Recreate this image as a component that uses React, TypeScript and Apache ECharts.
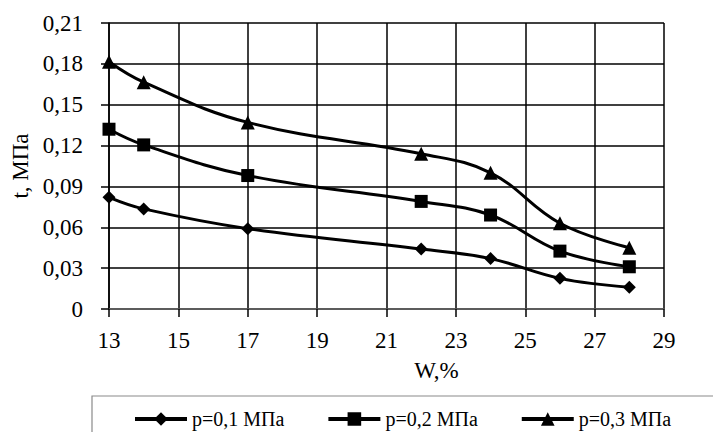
import React, { useEffect, useRef } from "react";
import * as echarts from "echarts";

const wValues = [13, 14, 17, 22, 24, 26, 28];
const xTickLabels = ["13", "15", "17", "19", "21", "23", "25", "27", "29"];
const p01 = [0.082, 0.0735, 0.059, 0.044, 0.037, 0.0225, 0.016];
const p02 = [0.132, 0.1205, 0.098, 0.079, 0.069, 0.0425, 0.031];
const p03 = [0.1815, 0.1665, 0.137, 0.114, 0.1, 0.063, 0.045];
const seriesNames = ["p=0,1 МПа", "p=0,2 МПа", "p=0,3 МПа"];
const seriesSymbols = ["diamond", "rect", "triangle"];
const seriesSizes = [13, 13, 14];

const FONT = "Liberation Serif";

export default function App() {
  const ref = useRef<HTMLDivElement>(null);
  useEffect(() => {
    if (!ref.current) return;
    const chart = echarts.init(ref.current, undefined, { renderer: "svg" });
    const allData = [p01, p02, p03];
    chart.setOption({
      animation: false,
      backgroundColor: "#ffffff",
      grid: { left: 109, right: 49, top: 23, bottom: 123 },
      xAxis: [
        {
          type: "category",
          data: xTickLabels,
          boundaryGap: false,
          name: "W,%",
          nameLocation: "middle",
          nameGap: 50,
          nameTextStyle: { fontFamily: FONT, fontSize: 23, color: "#000", padding: [0, 0, 0, 100] },
          axisLine: { show: true, lineStyle: { color: "#666", width: 1.5 } },
          axisTick: { show: true, alignWithLabel: true, length: 8, lineStyle: { color: "#000", width: 1.5 } },
          axisLabel: { fontFamily: FONT, fontSize: 23, color: "#000", margin: 20 },
          splitLine: { show: true, lineStyle: { color: "#000", width: 1.5 } },
        },
        {
          type: "value",
          min: 13,
          max: 29,
          show: false,
          splitLine: { show: false },
        },
      ],
      yAxis: {
        type: "value",
        min: 0,
        max: 0.21,
        interval: 0.03,
        name: "t, МПа",
        nameLocation: "middle",
        nameGap: 77,
        nameTextStyle: { fontFamily: FONT, fontSize: 23, color: "#000" },
        axisLine: { show: true, lineStyle: { color: "#000", width: 1.5 } },
        axisTick: { show: true, length: 8, lineStyle: { color: "#000", width: 1.5 } },
        axisLabel: {
          fontFamily: FONT,
          fontSize: 23,
          color: "#000",
          margin: 26,
          formatter: (v: number) => (v === 0 ? "0" : v.toFixed(2).replace(".", ",")),
        },
        splitLine: { show: true, lineStyle: { color: "#000", width: 1.5 } },
      },
      legend: {
        left: 128,
        top: 404,
        itemWidth: 52,
        itemHeight: 17,
        itemGap: 42,
        lineStyle: { width: 4 },
        textStyle: { fontFamily: FONT, fontSize: 20, color: "#000" },
        data: seriesNames,
      },
      graphic: [
        {
          type: "rect",
          shape: { x: 92, y: 396, width: 700, height: 80 },
          style: { fill: "none", stroke: "#8a8a8a", lineWidth: 1.2 },
          silent: true,
        },
      ],
      series: allData.map((arr, i) => ({
        name: seriesNames[i],
        type: "line",
        xAxisIndex: 1,
        smooth: 0.4,
        symbol: seriesSymbols[i],
        symbolSize: seriesSizes[i],
        itemStyle: { color: "#000" },
        lineStyle: { color: "#000", width: 3 },
        data: wValues.map((w, j) => [w, arr[j]]),
      })),
    });
    return () => chart.dispose();
  }, []);
  return <div ref={ref} style={{ width: 713, height: 432, position: "absolute", left: 0, top: 0 }} />;
}
